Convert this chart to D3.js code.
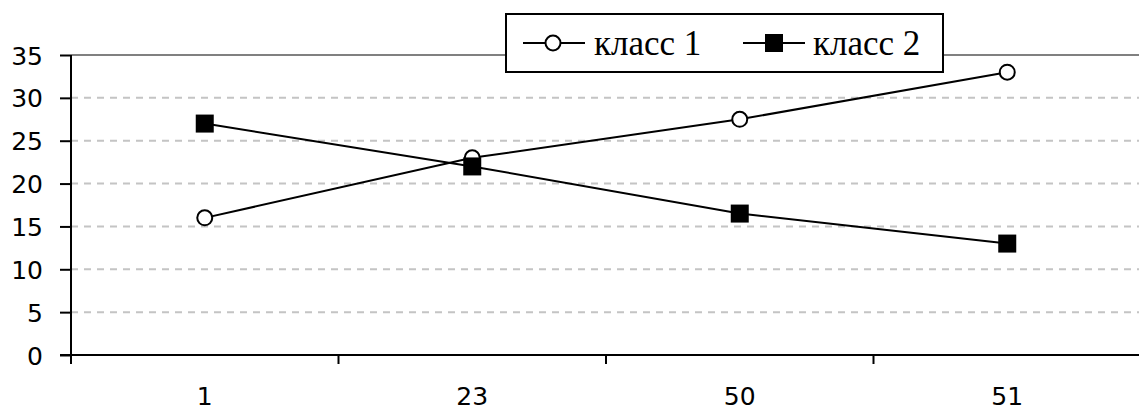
<!DOCTYPE html>
<html>
<head>
<meta charset="utf-8">
<script src="https://cdn.jsdelivr.net/npm/d3@7"></script>
<style>
  html, body { margin: 0; padding: 0; background: #fff; }
  svg { display: block; }
</style>
</head>
<body>
<svg id="chart" width="1139" height="410"></svg>
<script>
// Categories on the x axis and the two series
const categories = ["1", "23", "50", "51"];
const class1 = [16, 23, 27.5, 33];
const class2 = [27, 22, 16.5, 13];
const seriesNames = ["класс 1", "класс 2"];
const yTicks = [0, 5, 10, 15, 20, 25, 30, 35];

const svg = d3.select("#chart");
const plot = { left: 71, right: 1141, top: 55, bottom: 355 };

const x = d3.scaleBand().domain(categories).range([plot.left, plot.right]);
const y = d3.scaleLinear().domain([0, 35]).range([plot.bottom, plot.top]);

// Horizontal dashed gridlines
svg.append("g")
  .selectAll("line")
  .data(yTicks.filter(t => t > 0 && t < 35))
  .join("line")
  .attr("x1", plot.left).attr("x2", plot.right)
  .attr("y1", d => y(d)).attr("y2", d => y(d))
  .attr("stroke", "#c4c4c4")
  .attr("stroke-width", 2)
  .attr("stroke-dasharray", "7,6");

// Top border of the plot area
svg.append("line")
  .attr("x1", plot.left).attr("x2", plot.right)
  .attr("y1", y(35)).attr("y2", y(35))
  .attr("stroke", "#808080").attr("stroke-width", 2);

// Y axis
const yAxis = svg.append("g")
  .attr("transform", `translate(${plot.left},0)`)
  .call(d3.axisLeft(y).tickValues(yTicks).tickSize(11).tickPadding(17).tickFormat(d3.format("d")));
yAxis.select(".domain").attr("stroke", "#000").attr("stroke-width", 2)
  .attr("d", `M0,${plot.top}V${plot.bottom + 8}`);
yAxis.selectAll(".tick line").attr("stroke", "#000").attr("stroke-width", 2);
yAxis.selectAll(".tick text")
  .attr("font-family", "'DejaVu Sans', sans-serif")
  .attr("font-size", 25)
  .attr("fill", "#000")
  .attr("dy", "0.36em");

// X axis: ticks sit on category boundaries, labels centred in each band
const xAxisG = svg.append("g").attr("transform", `translate(0,${plot.bottom})`);
xAxisG.append("line")
  .attr("x1", plot.left - 11).attr("x2", plot.right)
  .attr("stroke", "#000").attr("stroke-width", 2);
xAxisG.selectAll("line.tick")
  .data(categories)
  .join("line")
  .attr("class", "tick")
  .attr("x1", d => x(d)).attr("x2", d => x(d))
  .attr("y1", 0).attr("y2", 9)
  .attr("stroke", "#000").attr("stroke-width", 2);
xAxisG.selectAll("text")
  .data(categories)
  .join("text")
  .attr("x", d => x(d) + x.bandwidth() / 2)
  .attr("y", 50)
  .attr("text-anchor", "middle")
  .attr("font-family", "'DejaVu Sans', sans-serif")
  .attr("font-size", 25)
  .attr("fill", "#000")
  .text(d => d);

const cx = d => x(d) + x.bandwidth() / 2;
const line = d3.line().x((v, i) => cx(categories[i])).y(v => y(v));

// Series lines
[class1, class2].forEach(vals => {
  svg.append("path")
    .datum(vals)
    .attr("d", line)
    .attr("fill", "none")
    .attr("stroke", "#000")
    .attr("stroke-width", 2);
});

// Markers: open circles for класс 1, filled squares for класс 2
svg.append("g").selectAll("circle")
  .data(class1)
  .join("circle")
  .attr("cx", (v, i) => cx(categories[i]))
  .attr("cy", v => y(v))
  .attr("r", 7.5)
  .attr("fill", "#fff").attr("stroke", "#000").attr("stroke-width", 2);

const sq = 18;
svg.append("g").selectAll("rect")
  .data(class2)
  .join("rect")
  .attr("x", (v, i) => cx(categories[i]) - sq / 2)
  .attr("y", v => y(v) - sq / 2)
  .attr("width", sq).attr("height", sq)
  .attr("fill", "#000");

// Legend
const legend = svg.append("g");
legend.append("rect")
  .attr("x", 506).attr("y", 14).attr("width", 437).attr("height", 58)
  .attr("fill", "#fff").attr("stroke", "#000").attr("stroke-width", 2);

const legendItems = [
  { name: seriesNames[0], x0: 523, kind: "circle", tx: 594 },
  { name: seriesNames[1], x0: 743, kind: "square", tx: 813 }
];
const ly = 43;
legendItems.forEach(it => {
  legend.append("line")
    .attr("x1", it.x0).attr("x2", it.x0 + 62)
    .attr("y1", ly).attr("y2", ly)
    .attr("stroke", "#000").attr("stroke-width", 2);
  if (it.kind === "circle") {
    legend.append("circle")
      .attr("cx", it.x0 + 30).attr("cy", ly).attr("r", 7.5)
      .attr("fill", "#fff").attr("stroke", "#000").attr("stroke-width", 2);
  } else {
    legend.append("rect")
      .attr("x", it.x0 + 31 - sq / 2).attr("y", ly - sq / 2)
      .attr("width", sq).attr("height", sq).attr("fill", "#000");
  }
  legend.append("text")
    .attr("x", it.tx).attr("y", ly + 12)
    .attr("font-family", "'Liberation Serif', 'Times New Roman', serif")
    .attr("font-size", 35)
    .attr("fill", "#000")
    .text(it.name);
});
</script>
</body>
</html>
